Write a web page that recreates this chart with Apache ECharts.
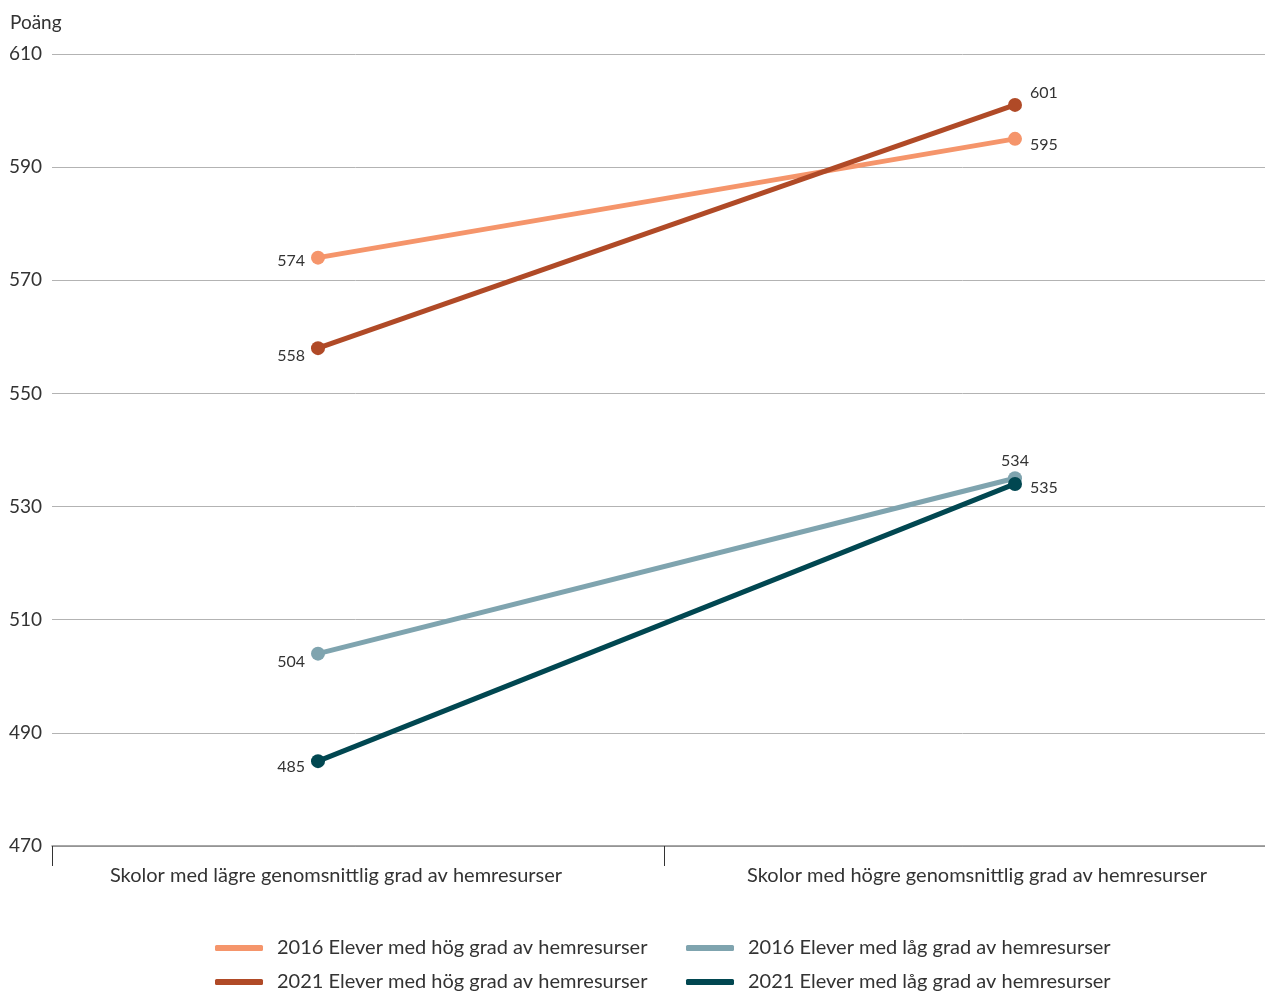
<!DOCTYPE html>
<html><head><meta charset="utf-8">
<script src="https://cdn.jsdelivr.net/npm/echarts@6/dist/echarts.min.js"></script>
<style>html,body{margin:0;padding:0;background:#fff}#c{width:1265px;height:994px}</style>
</head><body><div id="c"></div>
<script>
const categories = ['Skolor med lägre genomsnittlig grad av hemresurser', 'Skolor med högre genomsnittlig grad av hemresurser'];
const seriesNames = ['2016 Elever med hög grad av hemresurser', '2021 Elever med hög grad av hemresurser', '2016 Elever med låg grad av hemresurser', '2021 Elever med låg grad av hemresurser'];
const hog2016 = [574, 595];
const hog2021 = [558, 601];
const lag2016 = [504, 535];
const lag2021 = [485, 534];
const yTicks = [470, 490, 510, 530, 550, 570, 590, 610];
const colors = ['#F5956B', '#B04A27', '#7FA4AF', '#014751'];

const FONT = 'Lato';
const labelCfg = [
  [{position: 'left', distance: 6, offset: [0, 3]}, {position: 'right', distance: 8, offset: [0, 6]}],
  [{position: 'left', distance: 6, offset: [0, 8]}, {position: 'right', distance: 8, offset: [0, -12]}],
  [{position: 'left', distance: 6, offset: [0, 8]}, {position: 'right', distance: 8, offset: [0, 10]}],
  [{position: 'left', distance: 6, offset: [0, 6]}, {position: 'top', distance: 8, offset: [0, 0]}]
];
const allData = [hog2016, hog2021, lag2016, lag2021];

const chart = echarts.init(document.getElementById('c'), null, {renderer: 'canvas'});
const legendText = {color: '#333', fontSize: 20, fontFamily: FONT, padding: [0, 0, 0, 9]};
chart.setOption({
  animation: false,
  textStyle: {fontFamily: FONT},
  grid: [
    {left: 52, right: -11, top: 54, bottom: 148, outerBoundsMode: 'none', containLabel: false},
    {left: 318, right: 250, top: 54, bottom: 148, outerBoundsMode: 'none', containLabel: false}
  ],
  xAxis: [
    {type: 'category', gridIndex: 0, data: categories, boundaryGap: true,
     axisLine: {show: true, lineStyle: {color: '#8a8a8a', width: 1.5}},
     axisTick: {show: true, length: 20, lineStyle: {color: '#333', width: 1}},
     axisLabel: {color: '#333', fontSize: 20, fontFamily: FONT, margin: 20, interval: 0, hideOverlap: false,
       formatter: function (v, i) { return i === 0 ? '{a|' + v + '}' : '{b|' + v + '}'; },
       rich: {a: {fontSize: 20, color: '#333', fontFamily: FONT, padding: [0, 44, 0, 0]},
              b: {fontSize: 20, color: '#333', fontFamily: FONT, padding: [0, 0, 0, 14]}}},
     splitLine: {show: false}},
    {type: 'category', gridIndex: 1, data: categories, boundaryGap: false, show: false}
  ],
  yAxis: [
    {type: 'value', gridIndex: 0, min: yTicks[0], max: yTicks[yTicks.length - 1], interval: 20,
     name: 'Poäng', nameLocation: 'end', nameGap: 22,
     nameTextStyle: {color: '#333', fontSize: 19, fontFamily: FONT, align: 'left', padding: [0, 0, 0, -42]},
     axisLine: {show: false}, axisTick: {show: false},
     axisLabel: {color: '#333', fontSize: 19, fontFamily: FONT, margin: 10, verticalAlign: 'middle'},
     splitLine: {lineStyle: {color: '#b3b3b3', width: 1}}},
    {type: 'value', gridIndex: 1, min: yTicks[0], max: yTicks[yTicks.length - 1], interval: 20, show: false,
     splitLine: {show: false}}
  ],
  legend: [
    {data: [seriesNames[0], seriesNames[1]], orient: 'vertical', left: 215, top: 938, height: 56,
     itemWidth: 48, itemHeight: 6, itemGap: 14, icon: 'roundRect', padding: 0,
     textStyle: legendText},
    {data: [seriesNames[2], seriesNames[3]], orient: 'vertical', left: 686, top: 938, height: 56,
     itemWidth: 48, itemHeight: 6, itemGap: 14, icon: 'roundRect', padding: 0,
     textStyle: legendText}
  ],
  series: allData.map(function (arr, s) {
    return {
      name: seriesNames[s], type: 'line', xAxisIndex: 1, yAxisIndex: 1,
      symbol: 'circle', symbolSize: 14,
      lineStyle: {color: colors[s], width: 5},
      itemStyle: {color: colors[s]},
      z: 2 + s,
      data: arr.map(function (v, i) {
        return {value: v, label: Object.assign({show: true, color: '#333', fontSize: 16, fontFamily: FONT}, labelCfg[s][i])};
      })
    };
  })
});
</script></body></html>
